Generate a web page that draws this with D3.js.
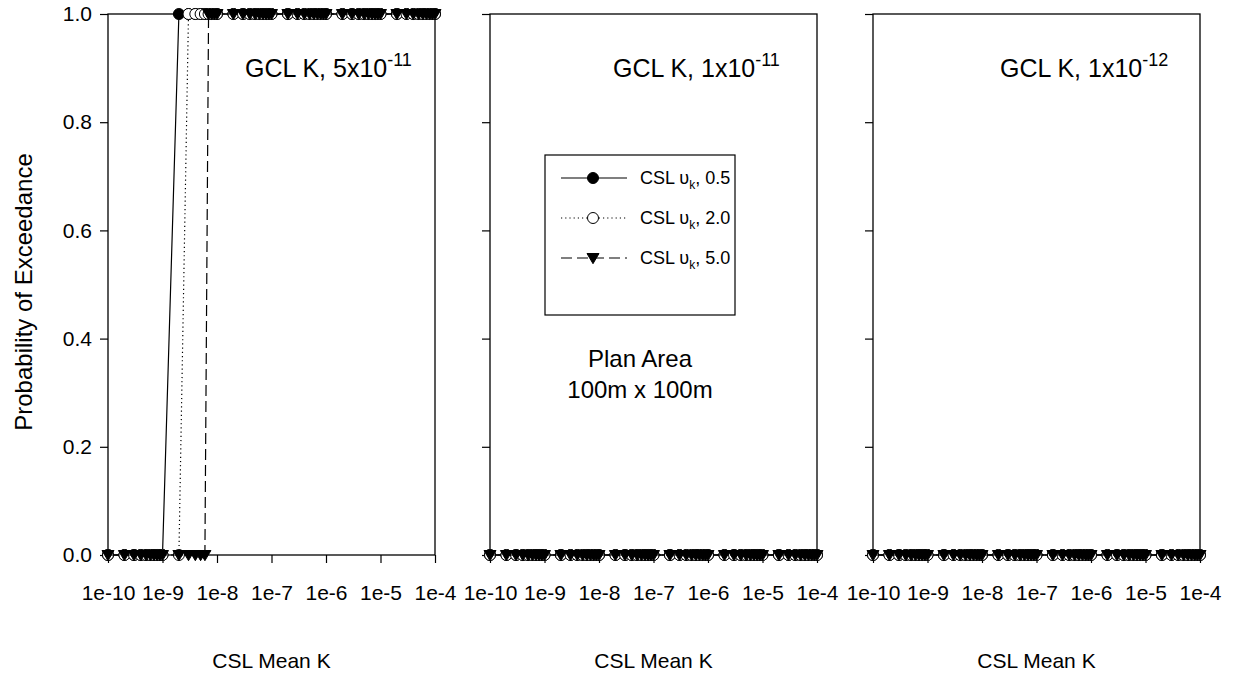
<!DOCTYPE html>
<html><head><meta charset="utf-8">
<script src="https://cdn.jsdelivr.net/npm/d3@7"></script>
<style>
body{margin:0;background:#fff}
text{font-family:"Liberation Sans",Arial,sans-serif;fill:#000}
</style>
</head><body>
<svg id="chart" width="1236" height="679"></svg>
<script>
// ---- data ----
const xValues = [
  1e-10,2e-10,3e-10,4e-10,5e-10,6e-10,7e-10,8e-10,9e-10,
  1e-9,2e-9,3e-9,4e-9,5e-9,6e-9,7e-9,8e-9,9e-9,
  1e-8,2e-8,3e-8,4e-8,5e-8,6e-8,7e-8,8e-8,9e-8,
  1e-7,2e-7,3e-7,4e-7,5e-7,6e-7,7e-7,8e-7,9e-7,
  1e-6,2e-6,3e-6,4e-6,5e-6,6e-6,7e-6,8e-6,9e-6,
  1e-5,2e-5,3e-5,4e-5,5e-5,6e-5,7e-5,8e-5,9e-5,
  1e-4
];
// Panel 1: GCL K 5x10^-11
const p1_v05 = [0,0,0,0,0,0,0,0,0, 0,1,1,1,1,1,1,1,1, 1,1,1,1,1,1,1,1,1, 1,1,1,1,1,1,1,1,1, 1,1,1,1,1,1,1,1,1, 1,1,1,1,1,1,1,1,1, 1];
const p1_v20 = [0,0,0,0,0,0,0,0,0, 0,0,1,1,1,1,1,1,1, 1,1,1,1,1,1,1,1,1, 1,1,1,1,1,1,1,1,1, 1,1,1,1,1,1,1,1,1, 1,1,1,1,1,1,1,1,1, 1];
const p1_v50 = [0,0,0,0,0,0,0,0,0, 0,0,0,0,0,0,1,1,1, 1,1,1,1,1,1,1,1,1, 1,1,1,1,1,1,1,1,1, 1,1,1,1,1,1,1,1,1, 1,1,1,1,1,1,1,1,1, 1];
// Panel 2: GCL K 1x10^-11
const p2_v05 = [0,0,0,0,0,0,0,0,0, 0,0,0,0,0,0,0,0,0, 0,0,0,0,0,0,0,0,0, 0,0,0,0,0,0,0,0,0, 0,0,0,0,0,0,0,0,0, 0,0,0,0,0,0,0,0,0, 0];
const p2_v20 = [0,0,0,0,0,0,0,0,0, 0,0,0,0,0,0,0,0,0, 0,0,0,0,0,0,0,0,0, 0,0,0,0,0,0,0,0,0, 0,0,0,0,0,0,0,0,0, 0,0,0,0,0,0,0,0,0, 0];
const p2_v50 = [0,0,0,0,0,0,0,0,0, 0,0,0,0,0,0,0,0,0, 0,0,0,0,0,0,0,0,0, 0,0,0,0,0,0,0,0,0, 0,0,0,0,0,0,0,0,0, 0,0,0,0,0,0,0,0,0, 0];
// Panel 3: GCL K 1x10^-12
const p3_v05 = [0,0,0,0,0,0,0,0,0, 0,0,0,0,0,0,0,0,0, 0,0,0,0,0,0,0,0,0, 0,0,0,0,0,0,0,0,0, 0,0,0,0,0,0,0,0,0, 0,0,0,0,0,0,0,0,0, 0];
const p3_v20 = [0,0,0,0,0,0,0,0,0, 0,0,0,0,0,0,0,0,0, 0,0,0,0,0,0,0,0,0, 0,0,0,0,0,0,0,0,0, 0,0,0,0,0,0,0,0,0, 0,0,0,0,0,0,0,0,0, 0];
const p3_v50 = [0,0,0,0,0,0,0,0,0, 0,0,0,0,0,0,0,0,0, 0,0,0,0,0,0,0,0,0, 0,0,0,0,0,0,0,0,0, 0,0,0,0,0,0,0,0,0, 0,0,0,0,0,0,0,0,0, 0];

const panelMantissa = ["5","1","1"];
const panelExponent = ["-11","-11","-12"];
const seriesNames = ["0.5","2.0","5.0"];
const xTickValues = [1e-10,1e-9,1e-8,1e-7,1e-6,1e-5,1e-4];
const xTickLabels = ["1e-10","1e-9","1e-8","1e-7","1e-6","1e-5","1e-4"];
const yTickValues = [0,0.2,0.4,0.6,0.8,1.0];
const xTitle = "CSL Mean K";
const yTitle = "Probability of Exceedance";
const noteLines = ["Plan Area","100m x 100m"];

const panelData = [
  [p1_v05,p1_v20,p1_v50],
  [p2_v05,p2_v20,p2_v50],
  [p3_v05,p3_v20,p3_v50]
];

// ---- layout ----
const svg = d3.select("#chart");
const panelLefts = [108, 490, 873];
const titleStarts = [245, 613, 1000];
const pw = 327, plotTop = 14, plotBottom = 555;
const y = d3.scaleLinear().domain([0,1]).range([plotBottom, plotTop]);

const styles = [
  {dash:null, marker:"filledCircle"},
  {dash:"1.2,3", marker:"openCircle"},
  {dash:"11,5", marker:"triangle"}
];

function drawMarker(g, kind, cx, cy){
  if(kind==="filledCircle"){
    g.append("circle").attr("cx",cx).attr("cy",cy).attr("r",5.5).attr("fill","#000").attr("stroke","#000").attr("stroke-width",1);
  } else if(kind==="openCircle"){
    g.append("circle").attr("cx",cx).attr("cy",cy).attr("r",5.5).attr("fill","#fff").attr("stroke","#000").attr("stroke-width",1);
  } else {
    const s=6;
    g.append("path").attr("d",`M${cx-s},${cy-s*0.75}L${cx+s},${cy-s*0.75}L${cx},${cy+s*0.95}Z`).attr("fill","#000").attr("stroke","#000").attr("stroke-width",1);
  }
}

panelLefts.forEach((left, pi) => {
  const x = d3.scaleLog().domain([1e-10,1e-4]).range([left, left+pw]);
  const g = svg.append("g");

  // frame
  g.append("rect").attr("x",left).attr("y",plotTop).attr("width",pw).attr("height",plotBottom-plotTop)
    .attr("fill","none").attr("stroke","#000").attr("stroke-width",1.3);

  // y axis
  const ya = d3.axisLeft(y).tickValues(yTickValues).tickSize(8).tickPadding(8)
    .tickFormat(pi===0 ? d3.format(".1f") : () => "");
  const yg = g.append("g").attr("transform",`translate(${left},0)`).call(ya);
  yg.select(".domain").remove();
  yg.selectAll("line").attr("stroke","#000").attr("stroke-width",1.2);
  yg.selectAll("text").style("font-size","21px").attr("font-family","Liberation Sans, Arial, sans-serif");

  // x axis
  const xa = d3.axisBottom(x).tickValues(xTickValues).tickSize(8).tickPadding(22)
    .tickFormat((d,i) => xTickLabels[i]);
  const xg = g.append("g").attr("transform",`translate(0,${plotBottom})`).call(xa);
  xg.select(".domain").remove();
  xg.selectAll("line").attr("stroke","#000").attr("stroke-width",1.2);
  xg.selectAll("text").style("font-size","21px").attr("font-family","Liberation Sans, Arial, sans-serif");

  // x title
  g.append("text").attr("x",left+pw/2).attr("y",668).attr("text-anchor","middle")
    .style("font-size","21px").text(xTitle);

  // panel title
  const t = g.append("text").attr("x",titleStarts[pi]).attr("y",77).attr("text-anchor","start").style("font-size","25px");
  t.append("tspan").text(`GCL K, ${panelMantissa[pi]}x10`);
  t.append("tspan").attr("dy",-11).style("font-size","18px").text(panelExponent[pi]);

  // series
  panelData[pi].forEach((vals, si) => {
    const pts = xValues.map((xv,i)=>[x(xv), y(vals[i])]);
    const line = d3.line();
    g.append("path").attr("d",line(pts)).attr("fill","none").attr("stroke","#000")
      .attr("stroke-width",1.2).attr("stroke-dasharray",styles[si].dash);
    const mg = g.append("g");
    pts.forEach(p => drawMarker(mg, styles[si].marker, p[0], p[1]));
  });
});

// y title
svg.append("text").attr("transform",`translate(32,292) rotate(-90)`)
  .attr("text-anchor","middle").style("font-size","24px").text(yTitle);

// legend
const lg = svg.append("g");
const lx = 545, ly = 155, lw = 190, lh = 160;
lg.append("rect").attr("x",lx).attr("y",ly).attr("width",lw).attr("height",lh)
  .attr("fill","#fff").attr("stroke","#000").attr("stroke-width",1.2);
seriesNames.forEach((nm, si) => {
  const ry = ly + 23 + si*40;
  lg.append("line").attr("x1",lx+16).attr("x2",lx+82).attr("y1",ry).attr("y2",ry)
    .attr("stroke","#000").attr("stroke-width",1.2).attr("stroke-dasharray",styles[si].dash);
  drawMarker(lg, styles[si].marker, lx+48, ry);
  const tx = lg.append("text").attr("x",lx+95).attr("y",ry+6).style("font-size","18px");
  tx.append("tspan").text("CSL \u03C5");
  tx.append("tspan").attr("dy",5).style("font-size","12px").text("k");
  tx.append("tspan").attr("dy",-5).text(", " + nm);
});

// note
noteLines.forEach((ln,i)=>{
  svg.append("text").attr("x",640).attr("y",367+i*31).attr("text-anchor","middle")
    .style("font-size","24px").text(ln);
});
</script>
</body></html>
